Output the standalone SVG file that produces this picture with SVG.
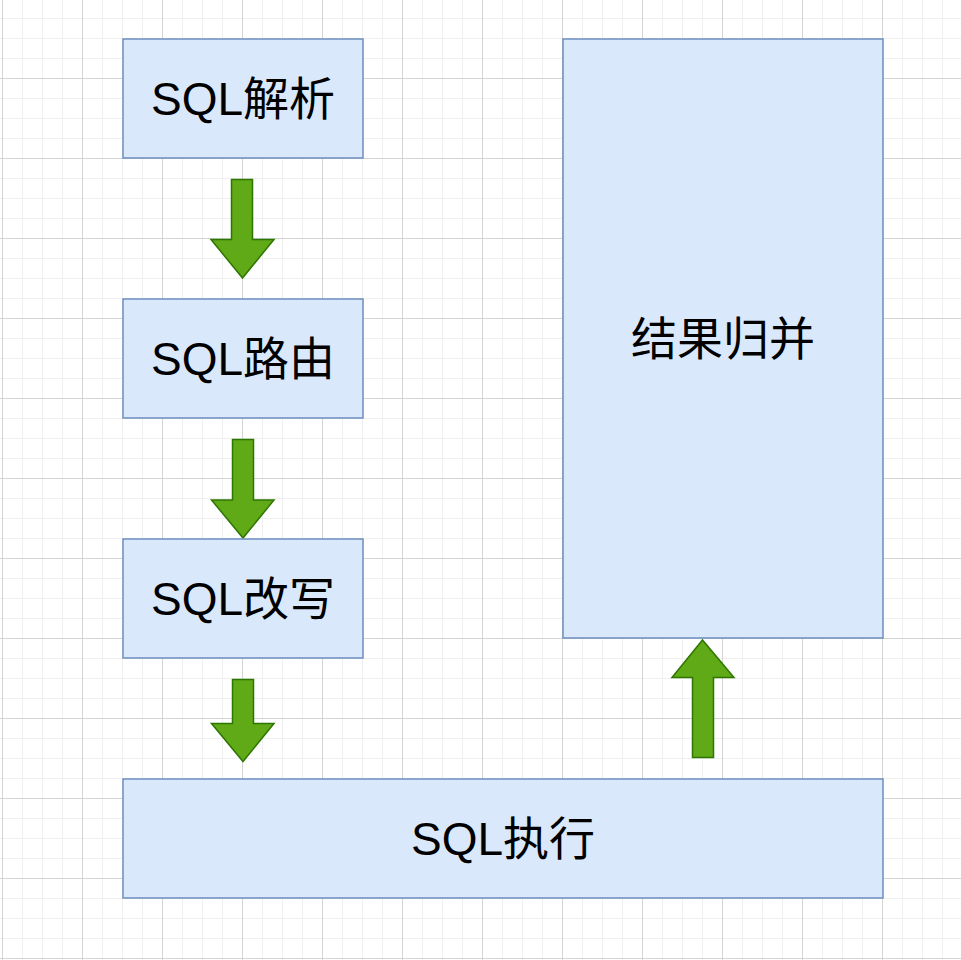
<svg xmlns="http://www.w3.org/2000/svg" width="961" height="960" viewBox="0 0 961 960">
<defs>
<pattern id="minor" x="2" y="-2" width="20" height="20" patternUnits="userSpaceOnUse">
<path d="M0.5 0 V20 M0 0.5 H20" fill="none" stroke="#efefef" stroke-width="1"/>
</pattern>
<pattern id="major" x="2" y="-2" width="80" height="80" patternUnits="userSpaceOnUse">
<path d="M0.5 0 V80 M0 0.5 H80" fill="none" stroke="#d4d4d4" stroke-width="1"/>
</pattern>
</defs>
<style>
.box{fill:#dae8fc;stroke:#6c8ebf;stroke-width:1.5}
.lbl{font-family:"Liberation Sans","Noto Sans CJK SC",sans-serif;font-size:46px;fill:#000;text-anchor:middle;dominant-baseline:central}
.arr{fill:#60a917;stroke:#2d7600;stroke-width:1.5;stroke-linejoin:miter}
</style>
<rect width="961" height="960" fill="#ffffff"/>
<rect width="961" height="960" fill="url(#minor)"/>
<rect width="961" height="960" fill="url(#major)"/>
<g id="connectors">
<polygon class="arr" points="231.5,179.5 252.5,179.5 252.5,239.5 274,239.5 242.5,278 211,239.5 231.5,239.5"/>
<polygon class="arr" points="232.5,439.5 253.5,439.5 253.5,500 274,500 243,538 211.5,500 232.5,500"/>
<polygon class="arr" points="232.5,679.5 253.5,679.5 253.5,723.5 274,723.5 243,761.5 211.5,723.5 232.5,723.5"/>
<polygon class="arr" points="692.5,757.5 713.5,757.5 713.5,677.5 734,677.5 702.5,640 672,677.5 692.5,677.5"/>
</g>
<g id="node-parse">
<rect class="box" x="123" y="39" width="240" height="119"/>
<text class="lbl" x="243" y="98.5">SQL解析</text>
</g>
<g id="node-route">
<rect class="box" x="123" y="299" width="240" height="119"/>
<text class="lbl" x="243" y="358.5">SQL路由</text>
</g>
<g id="node-rewrite">
<rect class="box" x="123" y="539" width="240" height="119"/>
<text class="lbl" x="243" y="598.5">SQL改写</text>
</g>
<g id="node-execute">
<rect class="box" x="123" y="779" width="760" height="119"/>
<text class="lbl" x="503" y="838.5">SQL执行</text>
</g>
<g id="node-merge">
<rect class="box" x="563" y="39" width="320" height="599"/>
<text class="lbl" x="723" y="338.5">结果归并</text>
</g>
</svg>
